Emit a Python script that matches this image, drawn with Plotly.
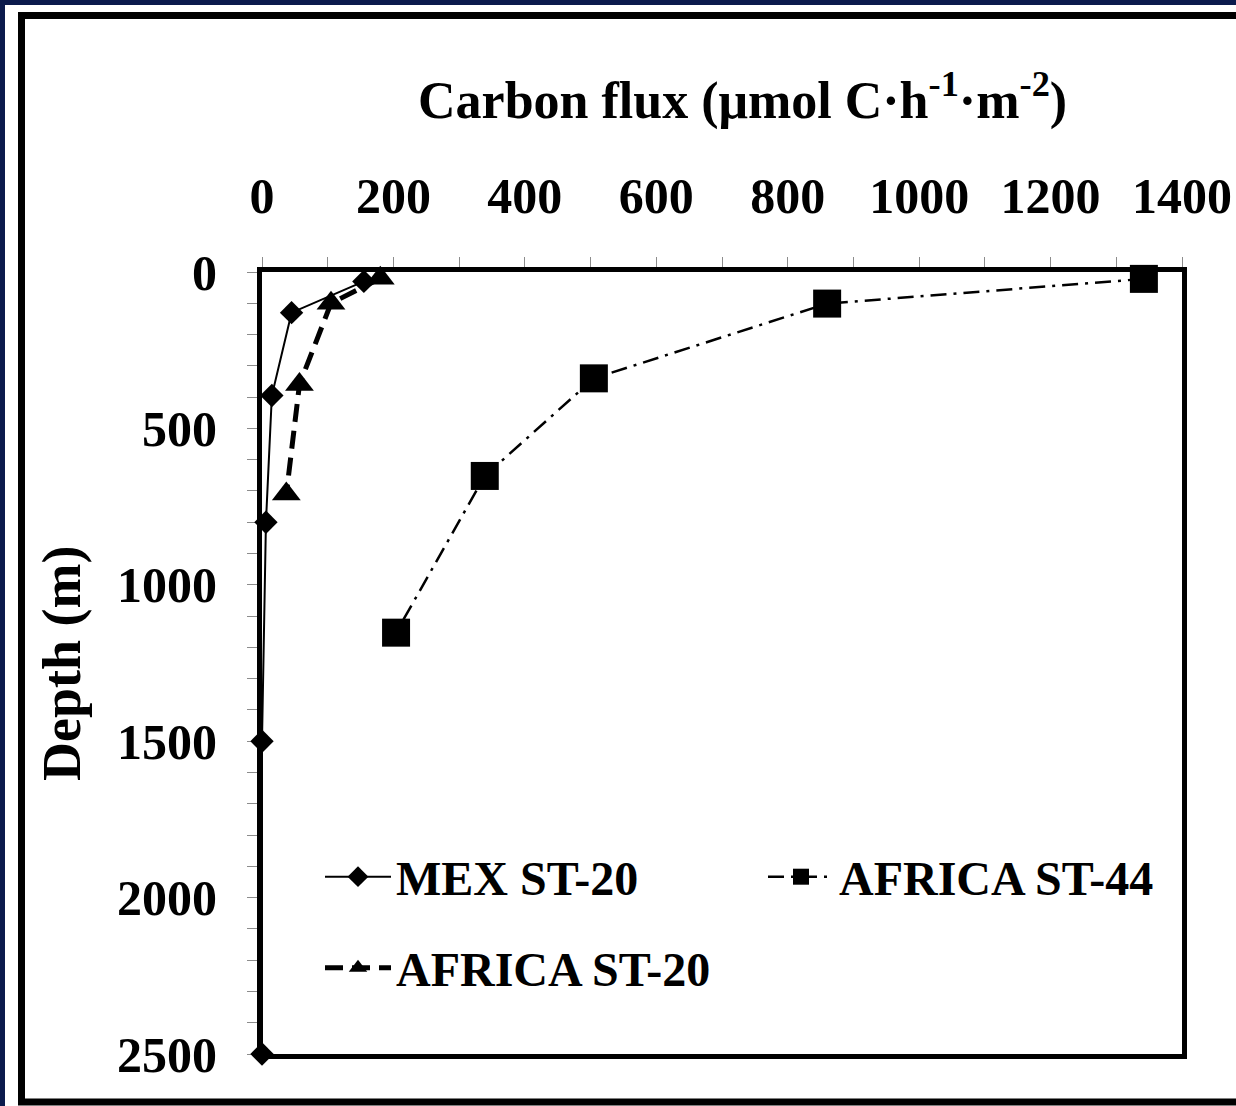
import plotly.graph_objects as go

# Carbon flux depth profiles (flux in umol C h-1 m-2, depth in m)
mex_st20_flux = [155, 45, 15, 6, 0, 0]
mex_st20_depth = [30, 130, 395, 800, 1500, 2500]

africa_st20_flux = [180, 105, 57, 37]
africa_st20_depth = [20, 100, 360, 710]

africa_st44_flux = [1342, 860, 505, 339, 204]
africa_st44_depth = [22, 101, 340, 652, 1153]

series_names = ["MEX ST-20", "AFRICA ST-20", "AFRICA ST-44"]
x_range = [0, 1400]
y_range = [2500, 0]

W, H = 1236, 1106
L, R, T, B = 262, 54, 272, 52
PW, PH = W - L - R, H - T - B


def px(xp):
    return (xp - L) / PW


def py(yp):
    return (H - B - yp) / PH


FONT = "Liberation Serif"

fig = go.Figure()

fig.add_trace(go.Scatter(
    x=mex_st20_flux, y=mex_st20_depth, name=series_names[0],
    mode="lines+markers",
    line=dict(color="black", width=2),
    marker=dict(symbol="diamond", size=18, color="black"),
    cliponaxis=False, legend="legend",
))
fig.add_trace(go.Scatter(
    x=africa_st20_flux, y=africa_st20_depth, name=series_names[1],
    mode="lines+markers",
    line=dict(color="black", width=5, dash="18px,9px"),
    marker=dict(symbol="triangle-up", size=25, color="black"),
    cliponaxis=False, legend="legend2",
))
fig.add_trace(go.Scatter(
    x=africa_st44_flux, y=africa_st44_depth, name=series_names[2],
    mode="lines+markers",
    line=dict(color="black", width=2.5, dash="16px,7px,3px,7px"),
    marker=dict(symbol="square", size=28, color="black"),
    cliponaxis=False, legend="legend3",
))

tick_font = dict(family=FONT, size=50, color="black", weight="bold")
axis_common = dict(
    showline=True, linewidth=5, linecolor="black", mirror=True,
    showgrid=False, zeroline=False, automargin=False,
    ticks="outside", ticklen=10, tickwidth=1, tickcolor="#8c8c8c",
    tickfont=tick_font, layer="below traces", ticklabeloverflow="allow",
)

fig.update_xaxes(
    side="top", range=x_range, tickmode="linear", tick0=0, dtick=200,
    minor=dict(dtick=100, ticks="outside", ticklen=10, tickwidth=1,
               tickcolor="#8c8c8c", showgrid=False),
    ticklabelstandoff=24,
    **axis_common,
)
fig.update_yaxes(
    range=y_range, tickmode="linear", tick0=0, dtick=500,
    minor=dict(dtick=100, ticks="outside", ticklen=10, tickwidth=1,
               tickcolor="#8c8c8c", showgrid=False),
    ticklabelstandoff=20,
    **axis_common,
)

legend_common = dict(
    xanchor="left", yanchor="middle", bgcolor="rgba(0,0,0,0)",
    borderwidth=0, itemwidth=66,
    font=dict(family=FONT, size=48, color="black", weight="bold"),
)

fig.update_layout(
    width=W, height=H,
    margin=dict(l=L, r=R, t=T, b=B, pad=0, autoexpand=False),
    paper_bgcolor="#0b1a4c",
    plot_bgcolor="white",
    showlegend=True,
    legend=dict(x=px(320), y=py(877), **legend_common),
    legend2=dict(x=px(320), y=py(968), **legend_common),
    legend3=dict(x=px(763), y=py(877), **legend_common),
    shapes=[
        dict(type="rect", xref="paper", yref="paper", layer="below",
             x0=px(5), x1=px(1260), y0=py(5), y1=py(1115),
             fillcolor="white", line=dict(width=0)),
        dict(type="rect", xref="paper", yref="paper", layer="below",
             x0=px(21.5), x1=px(1270), y0=py(15.5), y1=py(1102),
             fillcolor="rgba(0,0,0,0)", line=dict(color="black", width=7)),
    ],
    annotations=[
        dict(text="Carbon flux (μmol C·h<sup>-1</sup>·m<sup>-2</sup>)",
             xref="paper", yref="paper", x=px(742), y=py(97),
             xanchor="center", yanchor="middle", showarrow=False,
             font=dict(family=FONT, size=52, color="black", weight="bold")),
        dict(text="Depth (m)", textangle=-90,
             xref="paper", yref="paper", x=px(62), y=py(664),
             xanchor="center", yanchor="middle", showarrow=False,
             font=dict(family=FONT, size=54, color="black", weight="bold")),
    ],
)

fig.write_html("out.html", config={"displayModeBar": False})
